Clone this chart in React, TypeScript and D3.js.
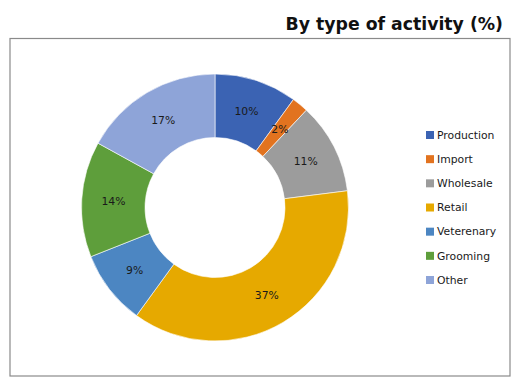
import React from 'react';
import * as d3 from 'd3';

const categories = ['Production', 'Import', 'Wholesale', 'Retail', 'Veterenary', 'Grooming', 'Other'];
const values = [10, 2, 11, 37, 9, 14, 17];
const colors = ['#3B63B3', '#E2731F', '#9C9C9C', '#E6A900', '#4C86C2', '#5E9E3B', '#8EA4D8'];

const App = () => {
  const width = 515;
  const height = 389;
  const cx = 215;
  const cy = 207.5;
  const outerR = 133.5;
  const innerR = 70;

  const data = categories.map((name, i) => ({ name, value: values[i], color: colors[i] }));

  const pie = d3.pie<any>().value(d => d.value).sort(null);
  const arcs = pie(data);
  const arc = d3.arc<any>().innerRadius(innerR).outerRadius(outerR);
  const labelArc = d3.arc<any>().innerRadius((innerR + outerR) / 2).outerRadius((innerR + outerR) / 2);

  // legend rows
  const legendY = d3.scalePoint<string>().domain(categories).range([135, 280]);

  return (
    <svg width={width} height={height} style={{ position: 'absolute', left: 0, top: 0 }}
      fontFamily="'DejaVu Sans', Verdana, sans-serif">
      <rect x={0} y={0} width={width} height={height} fill="#fff" />
      <text x={503} y={30} textAnchor="end" fontSize={17.3} fontWeight="bold" fill="#111">
        By type of activity (%)
      </text>
      <rect x={10} y={38.5} width={500} height={337.5} fill="#fff" stroke="#8a8a8a" strokeWidth={1.2} />
      <g transform={`translate(${cx},${cy})`}>
        {arcs.map((a, i) => (
          <path key={i} d={arc(a) as string} fill={a.data.color} stroke="#fff" strokeWidth={0.6} />
        ))}
        {arcs.map((a, i) => {
          const [x, y] = labelArc.centroid(a);
          return (
            <text key={i} x={x} y={y} dy="0.35em" textAnchor="middle" fontSize={10.8} fill="#1a1a1a">
              {a.data.value}%
            </text>
          );
        })}
      </g>
      <g>
        {data.map(d => (
          <g key={d.name} transform={`translate(426,${legendY(d.name)})`}>
            <rect x={0} y={-4} width={8} height={8} fill={d.color} />
            <text x={11} y={0} dy="0.35em" fontSize={10.8} fill="#1a1a1a">{d.name}</text>
          </g>
        ))}
      </g>
    </svg>
  );
};

export default App;
